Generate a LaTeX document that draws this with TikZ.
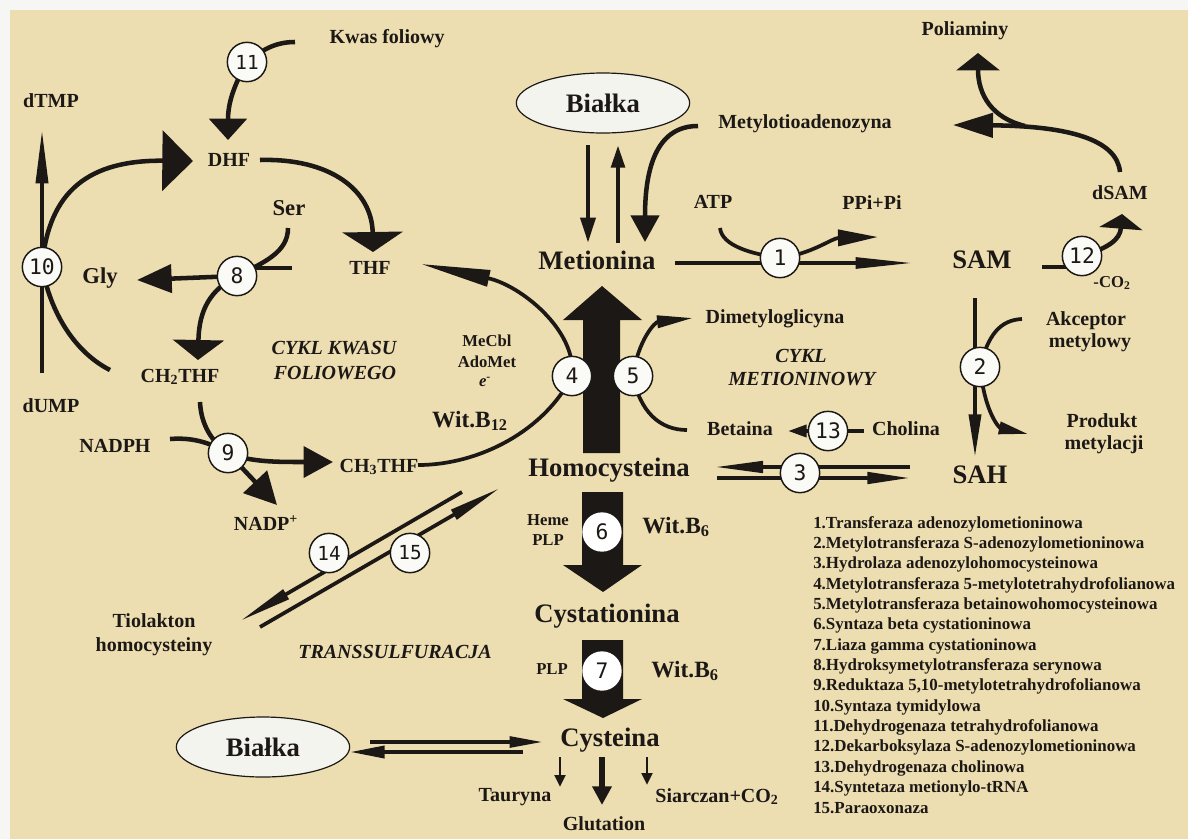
\documentclass[tikz,border=0pt]{standalone}
\usepackage{fontspec}
\setmainfont{Liberation Serif}
\newfontfamily\numfont{DejaVu Sans Mono}
\usetikzlibrary{arrows.meta,shapes.geometric}
\definecolor{bgbeige}{RGB}{237,222,177}
\definecolor{ink}{RGB}{28,24,22}
\definecolor{edgewhite}{RGB}{246,246,244}
\definecolor{circfill}{RGB}{250,250,246}
\definecolor{ellfill}{RGB}{244,244,238}
\newcommand\szA{\fontsize{20}{24}\selectfont}
\newcommand\szB{\fontsize{15}{18}\selectfont}
\newcommand\szC{\fontsize{12.5}{15}\selectfont}
\newcommand\szS{\fontsize{17}{20}\selectfont}
\newcommand\szW{\fontsize{17.5}{21}\selectfont}
\newcommand\szL{\fontsize{12.7}{15}\selectfont}
\begin{document}
\begin{tikzpicture}[x=0.75pt,y=-0.75pt,
  lbl/.style={anchor=base,inner sep=0pt,text=ink,font=\bfseries\szB},
  bigl/.style={lbl,font=\bfseries\szA},
  sml/.style={lbl,font=\bfseries\szC},
  serl/.style={lbl,font=\bfseries\szS},
  witl/.style={lbl,font=\bfseries\szW},
  itl/.style={lbl,font=\bfseries\itshape\szB},
  legl/.style={anchor=base west,inner sep=0pt,text=ink,font=\bfseries\szL},
  enz/.style={circle,draw=ink,line width=1.1pt,fill=circfill,minimum size=29.5pt,inner sep=0pt,text=ink,font=\numfont\fontsize{16}{16}\selectfont},
  enzs/.style={enz,font=\numfont\fontsize{14.5}{14.5}\selectfont},
  ell/.style={ellipse,draw=ink,line width=0.9pt,fill=ellfill,minimum width=130pt,minimum height=45pt,inner sep=0pt,text=ink,font=\bfseries\szA},
  conn/.style={draw=ink,line width=2.8pt},
  thk/.style={draw=ink,line width=3.4pt},
  blk/.style={fill=ink}
]
\useasboundingbox (0,0) rectangle (1188,839);
\fill[edgewhite] (0,0) rectangle (1188,839);
\fill[bgbeige] (10,10) rectangle (1188,839);

% enzyme positions
\coordinate (p1) at (780,258);
\coordinate (p2) at (980,367);
\coordinate (p3) at (800,473);
\coordinate (p4) at (572,376);
\coordinate (p5) at (633,376);
\coordinate (p6) at (602,532);
\coordinate (p7) at (602,671);
\coordinate (p8) at (237,276);
\coordinate (p9) at (228,453);
\coordinate (p10) at (42,267);
\coordinate (p11) at (247,62);
\coordinate (p12) at (1082,256);
\coordinate (p13) at (828,431);
\coordinate (p14) at (329,553);
\coordinate (p15) at (410,553);

% ---- folate cycle ----
\draw[thk,-{Triangle[length=16pt,width=28pt]}] (295,42) .. controls (275,42) and (262,50) .. (p11) .. controls (236,82) and (228,100) .. (228,140);
\draw[thk,-{Triangle[length=15pt,width=45pt]}] (260,160) .. controls (330,158) and (372,190) .. (373,252);
\draw[thk,-{Triangle[length=23pt,width=45pt]}] (p10) .. controls (48,190) and (90,160) .. (193,161);
\draw[thk] (p10) .. controls (52,320) and (80,355) .. (110,370);
\draw[conn,-{Triangle[length=40pt,width=9pt]}] (42,373) -- (42,130);
\draw[thk] (288,228) .. controls (288,252) and (265,262) .. (p8);
\draw[thk] (240,268) -- (292,268);
\draw[thk,-{Triangle[length=26pt,width=21pt]}] (p8) -- (137,280);
\draw[thk,-{Triangle[length=15pt,width=38pt]}] (p8) .. controls (210,290) and (199,310) .. (198,360);
\draw[thk] (200,402) .. controls (201,425) and (212,442) .. (p9);
\draw[thk,-{Triangle[length=22pt,width=23pt]}] (170,439) .. controls (195,437) and (212,444) .. (p9) .. controls (250,462) and (275,462) .. (333,462);
\draw[thk,-{Triangle[length=24pt,width=24pt]}] (p9) -- (277,505);
\draw[conn,-{Triangle[length=52pt,width=12pt]}] (418,465) .. controls (480,465) and (545,430) .. (p4) .. controls (577,330) and (520,285) .. (421,264);

% ---- methionine cycle ----
\draw[thk,-{Triangle[length=19pt,width=11pt]}] (588,145) -- (588,243);
\draw[thk,-{Triangle[length=17pt,width=10pt]}] (618,243) -- (618,145);
\draw[thk,-{Triangle[length=20pt,width=21pt]}] (698,126) .. controls (658,126) and (645,165) .. (645,242);
\draw[conn,-{Triangle[length=43pt,width=8pt]}] (675,263) -- (913,263);
\draw[conn,-{Triangle[length=30pt,width=12pt]}] (720,228) .. controls (722,246) and (752,254) .. (p1) .. controls (812,254) and (832,238) .. (878,237);
\draw[conn] (1042,267) -- (1068,267);
\draw[thk,-{Triangle[length=11pt,width=32pt]}] (p12) .. controls (1108,248) and (1120,240) .. (1122,214);
\draw[thk,-{Triangle[length=30pt,width=18pt]}] (1120,172) .. controls (1117,140) and (1070,126) .. (953,125);
\draw[thk,-{Triangle[length=13pt,width=32pt]}] (1025,126) .. controls (992,118) and (978,95) .. (978,53);
\draw[conn,-{Triangle[length=32pt,width=9pt]}] (975,298) -- (975,457);
\draw[conn] (1022,319) .. controls (1000,320) and (988,335) .. (p2);
\draw[conn,-{Triangle[length=22pt,width=9pt]}] (p2) .. controls (985,415) and (1000,428) .. (1028,434);
\draw[conn,-{Triangle[length=36pt,width=8.5pt]}] (910,467) -- (715,467);
\draw[conn,-{Triangle[length=32pt,width=8.5pt]}] (717,478) -- (910,478);
\draw[conn,-{Triangle[length=14pt,width=9pt]}] (p13) -- (788,431);
\draw[conn] (p13) -- (864,431);
\draw[conn,-{Triangle[length=27pt,width=9pt]}] (p5) .. controls (638,340) and (655,322) .. (693,318);
\draw[conn] (p5) .. controls (640,412) and (660,430) .. (687,430);

% ---- big arrows ----
\fill[blk] (583,453) -- (583,320) -- (563,320) -- (602,286) -- (642,320) -- (620,320) -- (620,453) -- cycle;
\fill[blk] (582,492) -- (623,492) -- (623,565) -- (642,565) -- (603,592) -- (563,565) -- (582,565) -- cycle;
\fill[blk] (582,640) -- (623,640) -- (623,699) -- (642,699) -- (603,718) -- (563,699) -- (582,699) -- cycle;

% ---- transsulfuration ----
\draw[conn,-{Triangle[length=40pt,width=8pt]}] (462,492) -- (240,621);
\draw[conn,-{Triangle[length=40pt,width=8pt]}] (260,627) -- (500,488);
\draw[conn,-{Triangle[length=25pt,width=8pt]}] (370,742) -- (543,742);
\draw[conn,-{Triangle[length=26pt,width=9pt]}] (523,752) -- (350,752);
\draw[draw=ink,line width=2.2pt,-{Triangle[length=9pt,width=8pt]}] (560,757) -- (560,787);
\draw[draw=ink,line width=4.5pt,-{Triangle[length=14pt,width=14pt]}] (602,757) -- (602,805);
\draw[draw=ink,line width=2.2pt,-{Triangle[length=9pt,width=8pt]}] (647,757) -- (647,785);

% ---- enzyme circles ----
\node[enz] (e1) at (p1) {1};
\node[enz] (e2) at (p2) {2};
\node[enz] (e3) at (p3) {3};
\node[enz] (e4) at (p4) {4};
\node[enz] (e5) at (p5) {5};
\node[enz,draw=none,fill=white] (e6) at (p6) {6};
\node[enz,draw=none,fill=white] (e7) at (p7) {7};
\node[enz] (e8) at (p8) {8};
\node[enz] (e9) at (p9) {9};
\node[enz] (e10) at (p10) {10};
\node[enzs] (e11) at (p11) {11};
\node[enz] (e12) at (p12) {12};
\node[enz] (e13) at (p13) {13};
\node[enzs] (e14) at (p14) {14};
\node[enzs] (e15) at (p15) {15};

% ---- ellipses ----
\node[ell] (bialka1) at (603,103) {Białka};
\node[ell] (bialka2) at (263,747) {Białka};

% ---- labels ----
\node[bigl] (met) at (597,269) {Metionina};
\node[bigl] (hcy) at (609,476) {Homocysteina};
\node[bigl] (sam) at (982,268) {SAM};
\node[bigl] (sah) at (980,483) {SAH};
\node[bigl] (cyst) at (607,622) {Cystationina};
\node[bigl] (cys) at (610,746) {Cysteina};

\node[lbl] (kwas) at (387,43) {Kwas foliowy};
\node[lbl] (dtmp) at (51,107) {dTMP};
\node[lbl] (dhf) at (229,166) {DHF};
\node[lbl] (thf) at (370,274) {THF};
\node[lbl] (ch2) at (180,382) {CH\textsubscript{2}THF};
\node[lbl] (dump) at (51,412) {dUMP};
\node[lbl] (nadph) at (115,452) {NADPH};
\node[lbl] (ch3) at (379,472) {CH\textsubscript{3}THF};
\node[lbl] (nadp) at (266,530) {NADP\textsuperscript{+}};
\node[serl] (ser) at (289,215) {Ser};
\node[serl] (gly) at (100,283) {Gly};
\node[itl] (ckw1) at (334,354) {CYKL KWASU};
\node[itl] (ckw2) at (335,379) {FOLIOWEGO};

\node[lbl] (mta) at (805,128) {Metylotioadenozyna};
\node[lbl] (atp) at (713,208) {ATP};
\node[lbl] (ppi) at (872,209) {PPi+Pi};
\node[lbl] (poli) at (965,35) {Poliaminy};
\node[lbl] (dsam) at (1120,199) {dSAM};
\node[sml] (co2) at (1112,287) {-CO\textsubscript{2}};
\node[lbl] (dmg) at (775,323) {Dimetyloglicyna};
\node[itl] (cm1) at (801,362) {CYKL};
\node[itl] (cm2) at (802,385) {METIONINOWY};
\node[lbl] (bet) at (740,435) {Betaina};
\node[lbl] (chol) at (906,435) {Cholina};
\node[lbl] (akc1) at (1086,325) {Akceptor};
\node[lbl] (akc2) at (1090,347) {metylowy};
\node[lbl] (prod1) at (1102,427) {Produkt};
\node[lbl] (prod2) at (1104,449) {metylacji};

\node[sml] (mecbl) at (487,346) {MeCbl};
\node[sml] (adomet) at (487,367) {AdoMet};
\node[sml] (elec) at (485,386) {\textit{e}\textsuperscript{-}};
\node[witl] (b12) at (470,427) {Wit.B\textsubscript{12}};
\node[sml] (heme) at (548,525) {Heme};
\node[sml] (plp1) at (548,545) {PLP};
\node[witl] (b6a) at (676,533) {Wit.B\textsubscript{6}};
\node[sml] (plp2) at (552,674) {PLP};
\node[witl] (b6b) at (685,677) {Wit.B\textsubscript{6}};

\node[lbl] (taur) at (515,801) {Tauryna};
\node[lbl] (glut) at (604,830) {Glutation};
\node[lbl] (siar) at (717,802) {Siarczan+CO\textsubscript{2}};
\node[lbl] (tio1) at (154,627) {Tiolakton};
\node[lbl] (tio2) at (154,651) {homocysteiny};
\node[itl] (trans) at (395,658) {TRANSSULFURACJA};

% ---- legend ----
\foreach \t [count=\i] in {{1.Transferaza adenozylometioninowa},
 {2.Metylotransferaza S-adenozylometioninowa},
 {3.Hydrolaza adenozylohomocysteinowa},
 {4.Metylotransferaza 5-metylotetrahydrofolianowa},
 {5.Metylotransferaza betainowohomocysteinowa},
 {6.Syntaza beta cystationinowa},
 {7.Liaza gamma cystationinowa},
 {8.Hydroksymetylotransferaza serynowa},
 {9.Reduktaza 5,10-metylotetrahydrofolianowa},
 {10.Syntaza tymidylowa},
 {11.Dehydrogenaza tetrahydrofolianowa},
 {12.Dekarboksylaza S-adenozylometioninowa},
 {13.Dehydrogenaza cholinowa},
 {14.Syntetaza metionylo-tRNA},
 {15.Paraoxonaza}}
 \node[legl] (leg\i) at (813,{528+(\i-1)*20.36}) {\t};
\end{tikzpicture}
\end{document}
